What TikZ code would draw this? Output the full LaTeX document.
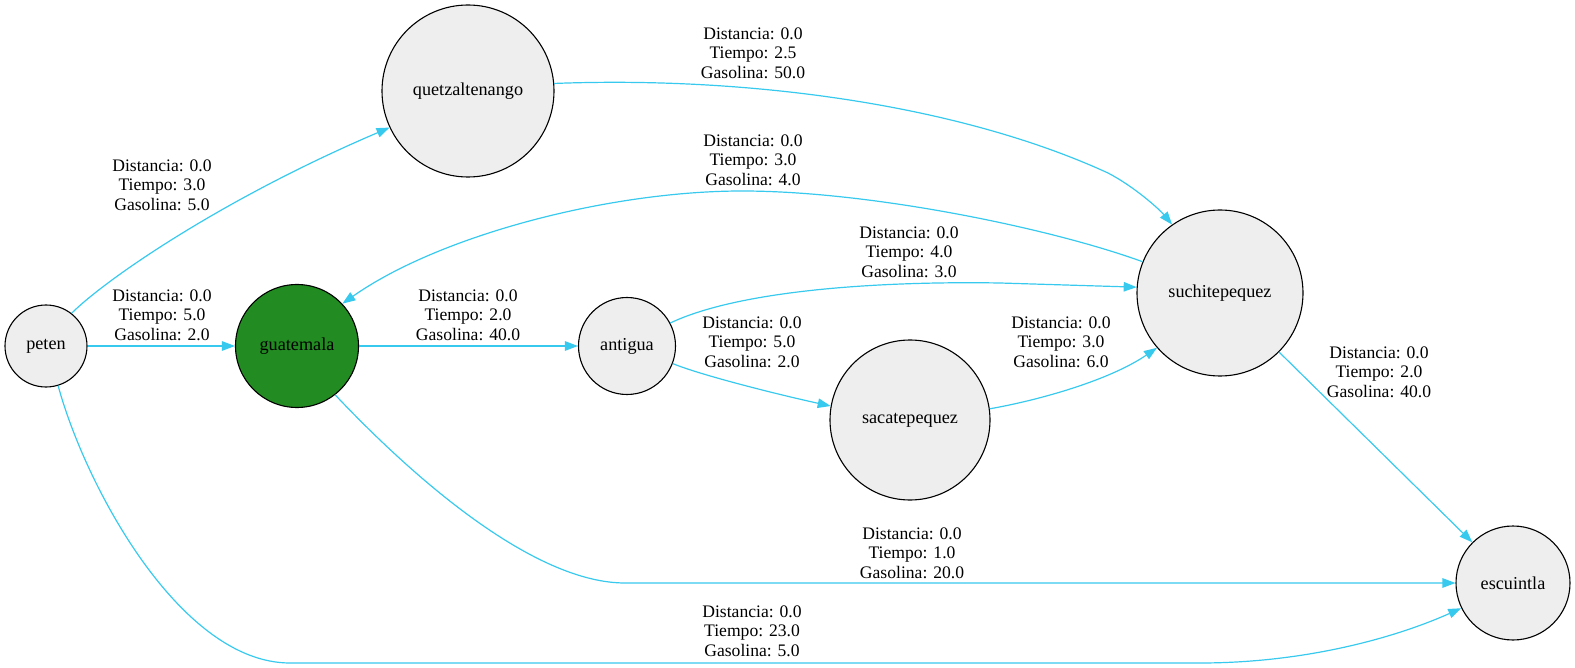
\documentclass[tikz,border=0pt]{standalone}
\usepackage{fontspec}
\setmainfont{Liberation Serif}
\usetikzlibrary{arrows.meta}
\definecolor{edgec}{RGB}{56,202,238}
\definecolor{nodefill}{HTML}{EEEEEE}
\definecolor{forest}{HTML}{228B22}
\tikzset{
  city/.style={circle,draw=black,line width=1.1pt,fill=nodefill,inner sep=0pt,font=\fontsize{18.2}{20}\selectfont},
  edge/.style={draw=edgec,line width=1.2pt,-{Triangle[length=13pt,width=9.5pt]}},
  lbl/.style={align=center,inner sep=0pt,font=\fontsize{17.6}{19.6}\selectfont}
}
\begin{document}
\begin{tikzpicture}[x=1pt,y=-1pt]
\useasboundingbox (0,0) rectangle (1575,668);
% nodes
\node[city,minimum size=82pt] (peten) at (46,346) {peten};
\node[city,minimum size=123pt,fill=forest] (guat) at (297,346) {guatemala};
\node[city,minimum size=172pt] (quetz) at (468,91) {quetzaltenango};
\node[city,minimum size=97pt] (antigua) at (627,346) {antigua};
\node[city,minimum size=160pt] (sacat) at (910,420) {sacatepequez};
\node[city,minimum size=166pt] (such) at (1220,293) {suchitepequez};
\node[city,minimum size=114pt] (esc) at (1513,583) {escuintla};
% edges
\draw[edge] (peten.52) .. controls (105,280) and (220,200) .. (quetz.205);
\draw[edge] (peten.east) -- (guat.west);
\draw[edge] (peten.-73) .. controls (85,485) and (180,663) .. (290,663) -- (1200,663) .. controls (1300,663) and (1390,640) .. (esc.206);
\draw[edge] (guat.east) -- (antigua.west);
\draw[edge] (guat.-52) .. controls (427,492) and (540,583) .. (625,583) -- (esc.west);
\draw[edge] (antigua.28) .. controls (740,290) and (880,281) .. (1000,283) -- (such.176);
\draw[edge] (antigua.-21) .. controls (700,375) and (780,395) .. (sacat.170);
\draw[edge] (sacat.8) .. controls (1040,400) and (1110,380) .. (such.221);
\draw[edge] (quetz.5) .. controls (750,76) and (960,105) .. (1108,173) .. controls (1135,187) and (1160,210) .. (such.125);
\draw[edge] (such.158) .. controls (1050,228) and (870,191) .. (742,191) .. controls (610,191) and (440,235) .. (guat.43);
\draw[edge] (such.-45) -- (esc.135);
% labels
\node[lbl] (l1) at (162,185) {Distancia: 0.0\\Tiempo: 3.0\\Gasolina: 5.0};
\node[lbl] (l2) at (162,315) {Distancia: 0.0\\Tiempo: 5.0\\Gasolina: 2.0};
\node[lbl] (l3) at (468,315) {Distancia: 0.0\\Tiempo: 2.0\\Gasolina: 40.0};
\node[lbl] (l4) at (753,53) {Distancia: 0.0\\Tiempo: 2.5\\Gasolina: 50.0};
\node[lbl] (l5) at (753,160) {Distancia: 0.0\\Tiempo: 3.0\\Gasolina: 4.0};
\node[lbl] (l6) at (909,252) {Distancia: 0.0\\Tiempo: 4.0\\Gasolina: 3.0};
\node[lbl] (l7) at (752,342) {Distancia: 0.0\\Tiempo: 5.0\\Gasolina: 2.0};
\node[lbl] (l8) at (1061,342) {Distancia: 0.0\\Tiempo: 3.0\\Gasolina: 6.0};
\node[lbl] (l9) at (1379,372) {Distancia: 0.0\\Tiempo: 2.0\\Gasolina: 40.0};
\node[lbl] (l10) at (912,553) {Distancia: 0.0\\Tiempo: 1.0\\Gasolina: 20.0};
\node[lbl] (l11) at (752,631) {Distancia: 0.0\\Tiempo: 23.0\\Gasolina: 5.0};
\end{tikzpicture}
\end{document}
